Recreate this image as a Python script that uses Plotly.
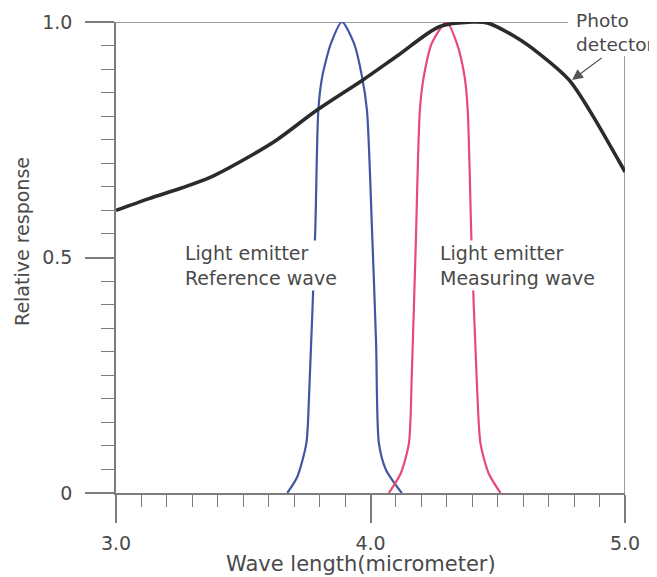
import plotly.graph_objects as go

# ---- data ----
detector_wavelength = [3.0, 3.13, 3.26, 3.37, 3.50, 3.63, 3.79, 3.97, 4.11, 4.27, 4.40, 4.46, 4.57, 4.66, 4.78, 4.86, 5.0]
detector_response = [0.60, 0.625, 0.648, 0.67, 0.707, 0.749, 0.813, 0.877, 0.93, 0.99, 1.0, 0.998, 0.968, 0.934, 0.877, 0.813, 0.682]

reference_wavelength = [3.673, 3.712, 3.748, 3.759, 3.783, 3.795, 3.810, 3.845, 3.888, 3.935, 3.967, 3.986, 4.006, 4.022, 4.033, 4.061, 4.123]
reference_response = [0, 0.034, 0.106, 0.212, 0.558, 0.813, 0.883, 0.955, 1.0, 0.955, 0.883, 0.813, 0.558, 0.318, 0.106, 0.049, 0]

measuring_wavelength = [4.072, 4.119, 4.151, 4.162, 4.178, 4.194, 4.209, 4.241, 4.299, 4.339, 4.370, 4.382, 4.397, 4.417, 4.432, 4.464, 4.511]
measuring_response = [0, 0.042, 0.106, 0.246, 0.531, 0.813, 0.883, 0.955, 1.0, 0.955, 0.883, 0.813, 0.531, 0.246, 0.106, 0.042, 0]

x_tickvals = [3.0, 4.0, 5.0]
x_ticktext = ["3.0", "4.0", "5.0"]
y_tickvals = [0, 0.5, 1.0]
y_ticktext = ["0", "0.5", "1.0"]

FONT = "DejaVu Sans"
TXT = "#4a4a4a"
AX = "#7d7d7d"

fig = go.Figure()
fig.add_trace(go.Scatter(x=reference_wavelength, y=reference_response, mode="lines",
                         line=dict(color="#4257a3", width=2.2, shape="spline", smoothing=0.7),
                         hoverinfo="skip"))
fig.add_trace(go.Scatter(x=measuring_wavelength, y=measuring_response, mode="lines",
                         line=dict(color="#e84a75", width=2.2, shape="spline", smoothing=0.7),
                         hoverinfo="skip"))
fig.add_trace(go.Scatter(x=detector_wavelength, y=detector_response, mode="lines",
                         line=dict(color="#2b2b2b", width=3.6, shape="spline", smoothing=0.8),
                         hoverinfo="skip"))

# top line at 1.0 leading to the label, and right border line
fig.add_shape(type="line", xref="x", yref="y", x0=3.0, x1=4.776, y0=1.0, y1=1.0,
              line=dict(color=AX, width=1.5), layer="below")
fig.add_shape(type="line", xref="x", yref="y", x0=5.0, x1=5.0, y0=0, y1=0.928,
              line=dict(color=AX, width=1.5), layer="below")

ann_font = dict(family=FONT, size=19, color=TXT)
fig.add_annotation(x=3.263, y=0.482, xref="x", yref="y", xanchor="left", yanchor="middle",
                   text="Light emitter<br>Reference wave", showarrow=False, align="left",
                   font=ann_font, bgcolor="white", borderpad=1)
fig.add_annotation(x=4.265, y=0.482, xref="x", yref="y", xanchor="left", yanchor="middle",
                   text="Light emitter<br>Measuring wave", showarrow=False, align="left",
                   font=ann_font, bgcolor="white", borderpad=1)
fig.add_annotation(x=4.804, y=0.978, xref="x", yref="y", xanchor="left", yanchor="middle",
                   text="Photo<br>detector", showarrow=False, align="left",
                   font=dict(family=FONT, size=18.5, color=TXT), bgcolor="white", borderpad=0)
# arrow to the detector curve
fig.add_annotation(x=4.792, y=0.877, xref="x", yref="y", text="", showarrow=True,
                   ax=31, ay=-23, arrowhead=2, arrowsize=1.8, arrowwidth=1.2,
                   arrowcolor="#555555", standoff=0)

# axis titles
fig.add_annotation(x=0, y=0.533, xref="paper", yref="paper", xshift=-94,
                   xanchor="center", yanchor="middle",
                   text="Relative response", textangle=-90, showarrow=False,
                   font=dict(family=FONT, size=19, color=TXT))
fig.add_annotation(x=0.481, y=0, xref="paper", yref="paper", yshift=-71,
                   xanchor="center", yanchor="middle",
                   text="Wave length(micrometer)", showarrow=False,
                   font=dict(family=FONT, size=21, color=TXT))

# the page body adds an 8px offset, so the figure is sized to fit the window
fig.update_layout(
    width=649, height=569,
    margin=dict(l=108, r=32, t=14, b=84, autoexpand=False),
    paper_bgcolor="white", plot_bgcolor="white",
    showlegend=False,
    xaxis=dict(range=[3.0, 5.0], tickmode="array", tickvals=x_tickvals, ticktext=x_ticktext,
               automargin=False,
               showgrid=False, zeroline=False, showline=True, linecolor=AX, linewidth=1.5,
               ticks="outside", ticklen=28, tickwidth=1.5, tickcolor=AX,
               ticklabelstandoff=4,
               tickfont=dict(family=FONT, size=19, color=TXT),
               minor=dict(tick0=3.0, dtick=0.1, ticks="outside", ticklen=12,
                          tickwidth=1.2, tickcolor=AX, showgrid=False)),
    yaxis=dict(range=[0, 1.0], tickmode="array", tickvals=y_tickvals, ticktext=y_ticktext,
               automargin=False,
               showgrid=False, zeroline=False, showline=True, linecolor=AX, linewidth=1.5,
               ticks="outside", ticklen=29, tickwidth=1.5, tickcolor=AX,
               ticklabelstandoff=9,
               tickfont=dict(family=FONT, size=19, color=TXT),
               minor=dict(tick0=0, dtick=0.05, ticks="outside", ticklen=13,
                          tickwidth=1.2, tickcolor=AX, showgrid=False)),
)

fig.write_html("out.html")
